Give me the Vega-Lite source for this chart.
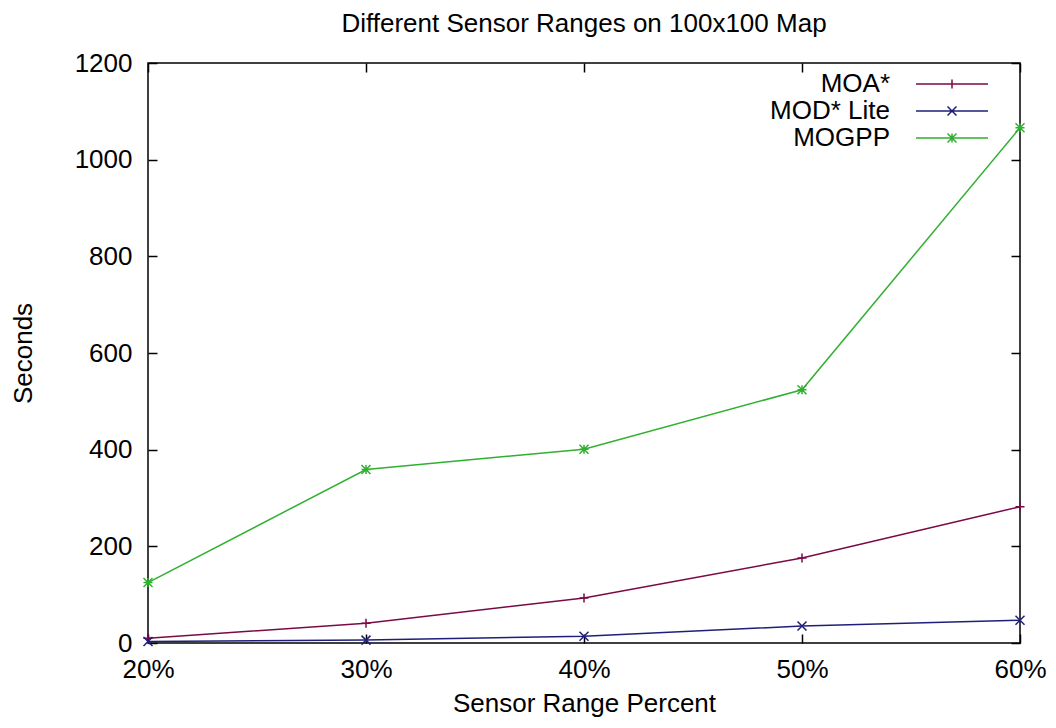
{
  "$schema": "https://vega.github.io/schema/vega-lite/v6.json",
  "width": 872,
  "height": 580,
  "autosize": "none",
  "padding": {"left": 148, "top": 63, "right": 36, "bottom": 85},
  "background": "white",
  "title": {"text": "Different Sensor Ranges on 100x100 Map", "font": "Liberation Sans", "fontSize": 26, "fontWeight": "normal", "color": "black", "anchor": "middle", "offset": 13},
  "config": {
    "view": {"stroke": "black", "strokeWidth": 1.5},
    "font": "Liberation Sans",
    "axis": {"labelFont": "Liberation Sans", "titleFont": "Liberation Sans", "labelFontSize": 26, "titleFontSize": 26, "titleFontWeight": "normal", "labelColor": "black", "titleColor": "black", "grid": false, "domain": false, "tickColor": "black", "tickWidth": 1.5}
  },
  "data": {"values": [
    {"x": "20%", "series": "MOA*", "y": 10},
    {"x": "30%", "series": "MOA*", "y": 41},
    {"x": "40%", "series": "MOA*", "y": 93},
    {"x": "50%", "series": "MOA*", "y": 176},
    {"x": "60%", "series": "MOA*", "y": 282},
    {"x": "20%", "series": "MOD* Lite", "y": 3},
    {"x": "30%", "series": "MOD* Lite", "y": 6},
    {"x": "40%", "series": "MOD* Lite", "y": 14},
    {"x": "50%", "series": "MOD* Lite", "y": 35},
    {"x": "60%", "series": "MOD* Lite", "y": 47},
    {"x": "20%", "series": "MOGPP", "y": 125},
    {"x": "30%", "series": "MOGPP", "y": 359},
    {"x": "40%", "series": "MOGPP", "y": 401},
    {"x": "50%", "series": "MOGPP", "y": 524},
    {"x": "60%", "series": "MOGPP", "y": 1066}
  ]},
  "layer": [
    {
      "mark": {"type": "line", "strokeWidth": 1.5},
      "encoding": {
        "x": {"field": "x", "type": "ordinal", "scale": {"type": "point", "padding": 0}, "sort": ["20%", "30%", "40%", "50%", "60%"],
              "axis": {"title": "Sensor Range Percent", "labelAngle": 0, "tickSize": -9, "labelPadding": 22, "titlePadding": 8}},
        "y": {"field": "y", "type": "quantitative", "scale": {"domain": [0, 1200], "nice": false},
              "axis": {"title": "Seconds", "format": "d", "values": [0, 200, 400, 600, 800, 1000, 1200], "tickSize": -9, "labelPadding": 25, "titlePadding": 38}},
        "color": {"field": "series", "type": "nominal",
          "scale": {"domain": ["MOA*", "MOD* Lite", "MOGPP"], "range": ["#7a0a45", "#1f1f7a", "#30b030"]},
          "legend": {
            "title": null, "orient": "none", "legendX": 791, "legendY": 8, "padding": 0,
            "labelFont": "Liberation Sans", "labelFontSize": 26, "labelColor": "black",
            "labelAlign": "right", "labelOffset": -75, "symbolSize": 81, "symbolStrokeWidth": 1.5, "rowPadding": 1,
            "encode": {"symbols": {"update": {
              "shape": {"signal": "datum.value === 'MOA*' ? 'M-8,0L8,0M0,-1L0,1' : datum.value === 'MOD* Lite' ? 'M-8,0L8,0M-1,-1L1,1M-1,1L1,-1' : 'M-8,0L8,0M0,-1L0,1M-1,-1L1,1M-1,1L1,-1'"},
              "fill": {"value": "transparent"},
              "strokeWidth": {"value": 1.5}
            }}}
          }}
      }
    },
    {
      "transform": [{"filter": "datum.series === 'MOA*'"}],
      "mark": {"type": "point", "filled": false, "strokeWidth": 1.5, "opacity": 1, "size": 81, "shape": "M-1,0L1,0M0,-1L0,1"},
      "encoding": {
        "x": {"field": "x", "type": "ordinal", "sort": ["20%", "30%", "40%", "50%", "60%"], "axis": null},
        "y": {"field": "y", "type": "quantitative", "axis": null},
        "color": {"field": "series", "type": "nominal", "legend": null}
      }
    },
    {
      "transform": [{"filter": "datum.series === 'MOD* Lite'"}],
      "mark": {"type": "point", "filled": false, "strokeWidth": 1.5, "opacity": 1, "size": 81, "shape": "M-1,-1L1,1M-1,1L1,-1"},
      "encoding": {
        "x": {"field": "x", "type": "ordinal", "sort": ["20%", "30%", "40%", "50%", "60%"], "axis": null},
        "y": {"field": "y", "type": "quantitative", "axis": null},
        "color": {"field": "series", "type": "nominal", "legend": null}
      }
    },
    {
      "transform": [{"filter": "datum.series === 'MOGPP'"}],
      "mark": {"type": "point", "filled": false, "strokeWidth": 1.5, "opacity": 1, "size": 81, "shape": "M-1,0L1,0M0,-1L0,1M-1,-1L1,1M-1,1L1,-1"},
      "encoding": {
        "x": {"field": "x", "type": "ordinal", "sort": ["20%", "30%", "40%", "50%", "60%"], "axis": null},
        "y": {"field": "y", "type": "quantitative", "axis": null},
        "color": {"field": "series", "type": "nominal", "legend": null}
      }
    },
    {
      "mark": {"type": "point", "opacity": 0},
      "encoding": {
        "x": {"field": "x", "type": "ordinal", "sort": ["20%", "30%", "40%", "50%", "60%"], "axis": {"orient": "top", "labels": false, "title": null, "tickSize": -9}},
        "y": {"field": "y", "type": "quantitative", "axis": {"orient": "right", "labels": false, "title": null, "values": [0, 200, 400, 600, 800, 1000, 1200], "tickSize": -9}}
      }
    }
  ],
  "resolve": {"axis": {"x": "independent", "y": "independent"}}
}
